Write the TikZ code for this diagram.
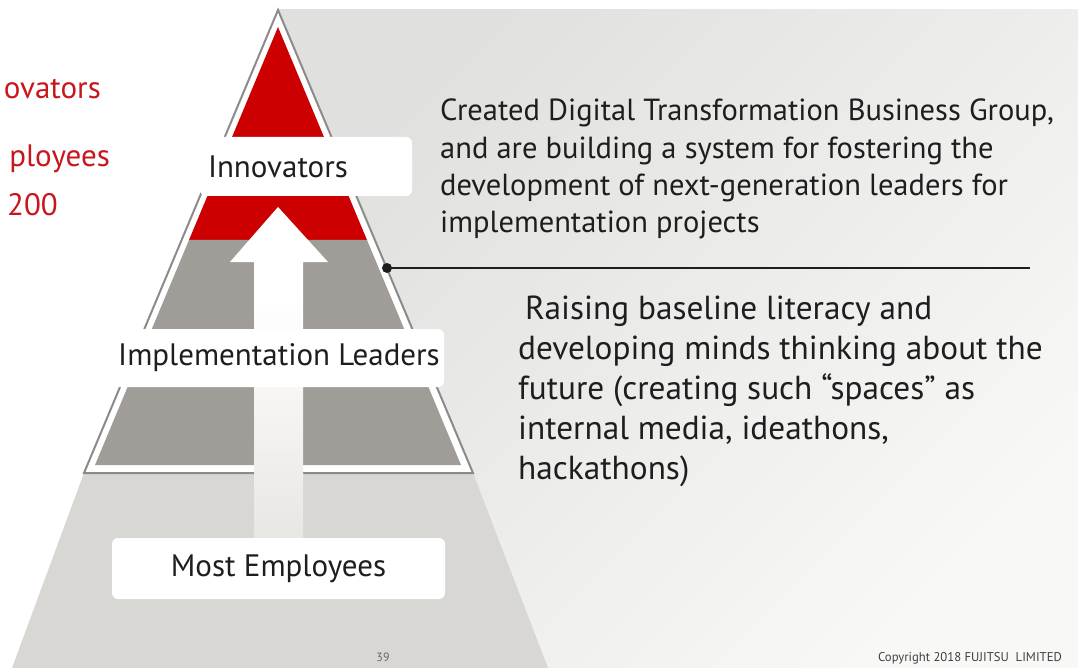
\documentclass[tikz,border=0pt]{standalone}
\usepackage{tikz}
\usepackage{xcolor}
\usepackage{fontspec}
\setmainfont{PT Sans}
\definecolor{fjred}{HTML}{CC0000}
\definecolor{fjtext}{HTML}{C8161D}
\definecolor{darkband}{HTML}{A09D98}
\definecolor{lightband}{HTML}{D9D7D3}
\definecolor{frame}{HTML}{8C8B89}
\definecolor{bgtop}{HTML}{E0E0DE}
\definecolor{bgbottom}{HTML}{F8F8F7}
\definecolor{shaftgray}{HTML}{E8E6E3}
\definecolor{ink}{HTML}{1E1E1E}

\begin{document}
\begin{tikzpicture}[x=1pt,y=-1pt,
    levelbox/.style={fill=white, rounded corners=6pt, text=ink, font=\fontsize{31}{36}\selectfont, inner sep=0pt},
    redlabel/.style={anchor=base east, text=fjtext, font=\fontsize{31}{37}\selectfont, inner sep=0pt}]
    \clip (0,0) rectangle (1078,668);
    \fill[white] (0,0) rectangle (1078,668);
    \fill[top color=bgtop, bottom color=bgbottom, shading angle=45] (278,10) rectangle (1078,668);

    \fill[lightband] (84,473) -- (473,473) -- (548,668) -- (12,668) -- cycle;
    \draw[frame, line width=2pt, fill=white] (278,10) -- (473,473) -- (84,473) -- cycle;
    \fill[fjred] (278,27) -- (367,240) -- (189,240) -- cycle;
    \fill[darkband] (189,240) -- (367,240) -- (461,465) -- (95,465) -- cycle;

    \fill[white] (278,207) -- (328,262) -- (303,262) -- (303,300) -- (254,300) -- (254,262) -- (230,262) -- cycle;
    \fill[top color=white, middle color=shaftgray, bottom color=shaftgray] (254,299.5) rectangle (303,545);

    \node[levelbox, text width=196pt, inner xsep=8pt, minimum height=59pt, align=left] (innovators) at (306,166.5) {Innovators};
    \node[levelbox, minimum width=330pt, minimum height=58pt] (leaders) at (279,358) {Implementation Leaders};
    \node[levelbox, minimum width=333pt, minimum height=61pt] (employees) at (278.5,568.5) {Most Employees};

    \node[redlabel] (redinnov) at (101,99) {ovators};
    \node[redlabel] (redemploy) at (110,167) {ployees};
    \node[redlabel] (rednum) at (58,216) {200};

    \node[circle, fill=ink, inner sep=0pt, minimum size=10pt] (tap) at (387,268) {};
    \coordinate (ruleend) at (1030,268);
    \draw[ink, line width=2pt] (tap.center) -- (ruleend);

    \node[anchor=north west, align=left, text=ink, inner sep=0pt, font=\fontsize{30.5}{37.3}\selectfont] (fostering) at (440,99) {Created Digital Transformation Business Group,\\ and are building a system for fostering the\\ development of next-generation leaders for\\ implementation projects};

    \node[anchor=north west, align=left, text=ink, inner sep=0pt, font=\fontsize{33.3}{40}\selectfont] (literacy) at (518,296) {\hspace{7pt}Raising baseline literacy and\\ developing minds thinking about the\\ future (creating such “spaces” as\\ internal media, ideathons,\\ hackathons)};

    \node[text=gray!80!black, font=\fontsize{12}{14}\selectfont] (pagenum) at (383,657) {39};
    \node[text=ink!85, font=\fontsize{12.7}{14}\selectfont] (copyright) at (970,658) {Copyright 2018 FUJITSU\ \ LIMITED};
\end{tikzpicture}
\end{document}
